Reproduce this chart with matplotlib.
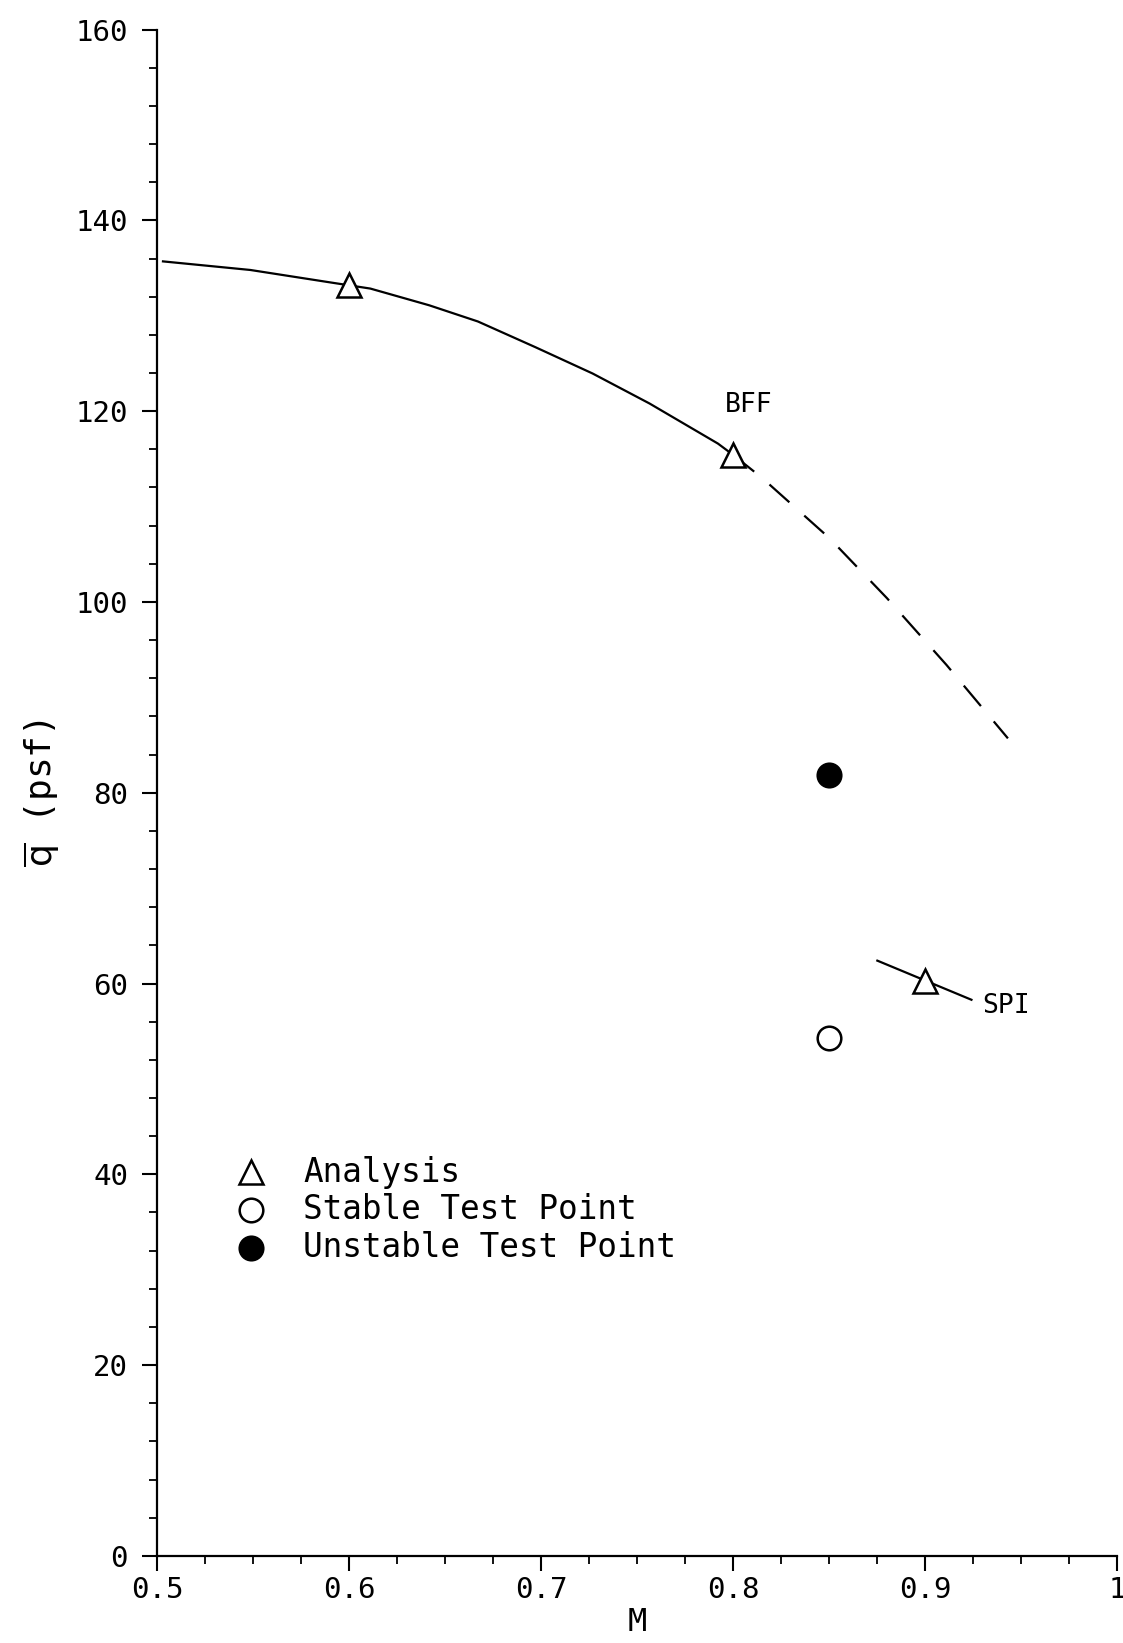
import matplotlib.pyplot as plt
from matplotlib.ticker import MultipleLocator

# BFF boundary, solid part (analysis)
m_solid = [0.503, 0.5485, 0.59, 0.611, 0.6416, 0.667, 0.697, 0.7267, 0.7564, 0.792, 0.8]
q_solid = [135.7, 134.8, 133.5, 132.85, 131.1, 129.4, 126.7, 123.95, 120.8, 116.6, 115.4]

# BFF boundary, dashed extrapolation
m_dash = [0.8, 0.815, 0.85, 0.88, 0.911, 0.943]
q_dash = [115.4, 113.0, 106.7, 100.4, 93.4, 85.7]

# SPI short line
m_spi = [0.875, 0.924]
q_spi = [62.4, 58.3]

# points
m_analysis = [0.6, 0.8, 0.9]
q_analysis = [133.2, 115.4, 60.3]
m_stable = [0.85]
q_stable = [54.3]
m_unstable = [0.85]
q_unstable = [81.9]

xticks = [0.5, 0.6, 0.7, 0.8, 0.9, 1.0]
xticklabels = ['0.5', '0.6', '0.7', '0.8', '0.9', '1']
yticks = [0, 20, 40, 60, 80, 100, 120, 140, 160]

FONT = 'DejaVu Sans Mono'
plt.rcParams['font.family'] = FONT
plt.rcParams['mathtext.fontset'] = 'dejavusans'

fig = plt.figure(figsize=(11.23, 16.43), dpi=100)
ax = fig.add_axes([0.140, 0.053, 0.855, 0.929])

ax.plot(m_solid, q_solid, color='black', lw=1.6)
ax.plot(m_dash, q_dash, color='black', lw=1.6, dashes=(12, 9))
ax.plot(m_spi, q_spi, color='black', lw=1.6)

ax.plot(m_analysis, q_analysis, linestyle='none', marker='^', ms=17,
        mfc='white', mec='black', mew=1.8)
ax.plot(m_stable, q_stable, linestyle='none', marker='o', ms=17,
        mfc='white', mec='black', mew=1.8)
ax.plot(m_unstable, q_unstable, linestyle='none', marker='o', ms=17,
        mfc='black', mec='black', mew=1.8)

ax.text(0.808, 120.6, 'BFF', fontsize=19, ha='center', va='center')
ax.text(0.942, 57.6, 'SPI', fontsize=19, ha='center', va='center')

# legend drawn by hand like the plotter output
leg_x = 0.549
leg_tx = 0.576
leg_y = [40.2, 36.3, 32.3]
ax.plot([leg_x], [leg_y[0]], marker='^', ms=17, mfc='white', mec='black', mew=1.8)
ax.plot([leg_x], [leg_y[1]], marker='o', ms=17, mfc='white', mec='black', mew=1.8)
ax.plot([leg_x], [leg_y[2]], marker='o', ms=17, mfc='black', mec='black', mew=1.8)
for y, t in zip(leg_y, ['Analysis', 'Stable Test Point', 'Unstable Test Point']):
    ax.text(leg_tx, y, t, fontsize=23.5, ha='left', va='center')

ax.set_xlim(0.5, 1.0)
ax.set_ylim(0, 160)
ax.set_xticks(xticks)
ax.set_xticklabels(xticklabels)
ax.set_yticks(yticks)
ax.xaxis.set_minor_locator(MultipleLocator(0.025))
ax.yaxis.set_minor_locator(MultipleLocator(4))
ax.tick_params(which='major', length=11, width=1.5, labelsize=21, direction='out')
ax.tick_params(axis='y', which='major', pad=10)
ax.tick_params(which='minor', length=6, width=1.3, direction='out')
ax.spines['top'].set_visible(False)
ax.spines['right'].set_visible(False)
ax.spines['left'].set_linewidth(1.6)
ax.spines['bottom'].set_linewidth(1.6)

ax.set_xlabel('M', fontsize=23, labelpad=2)
ax.set_ylabel(r'$\overline{\mathrm{q}}$ (psf)', fontsize=26, labelpad=10)

fig.savefig('out.png', dpi=100)
